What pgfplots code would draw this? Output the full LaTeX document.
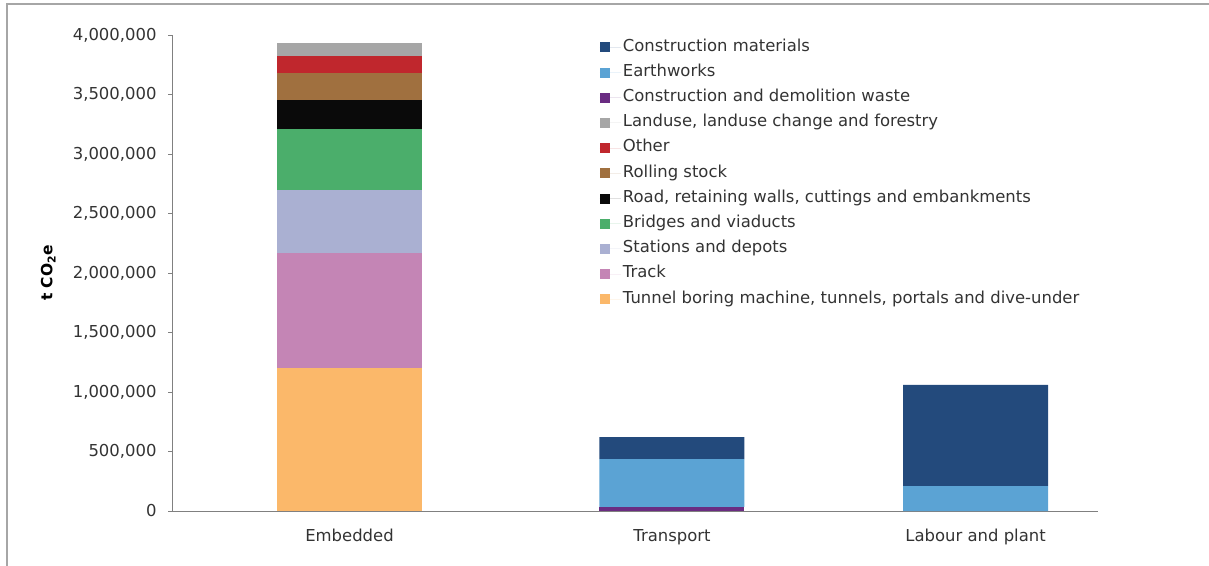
\documentclass[border=0pt]{standalone}
\usepackage{pgfplots}
\pgfplotsset{compat=1.18}
\usepackage{fontspec}
\setmainfont{DejaVu Sans}
\definecolor{cmat}{HTML}{234A7C}
\definecolor{earth}{HTML}{5BA3D4}
\definecolor{waste}{HTML}{6A2C82}
\definecolor{landuse}{HTML}{A6A6A6}
\definecolor{other}{HTML}{C0272D}
\definecolor{rolling}{HTML}{A0703F}
\definecolor{road}{HTML}{0A0A0A}
\definecolor{bridges}{HTML}{4BAE6B}
\definecolor{stations}{HTML}{AAB0D2}
\definecolor{track}{HTML}{C485B5}
\definecolor{tunnel}{HTML}{FBB86A}
\definecolor{axgray}{HTML}{808080}
\begin{document}
\begin{tikzpicture}
\useasboundingbox (0,0) rectangle (1209bp,566bp);
\draw[gray!70, line width=1.2bp] (7bp,0) -- (7bp,562bp) -- (1209bp,562bp);
\begin{axis}[
  at={(172bp,55bp)}, anchor=south west,
  scale only axis, width=926bp, height=476bp,
  ybar stacked, bar width=145bp,
  xmin=-0.567, xmax=2.391, ymin=0, ymax=4000000,
  axis x line*=bottom, axis y line*=left,
  axis line style={axgray, line width=0.8bp},
  every axis plot/.append style={draw=none},
  xtick={0,1.03,2}, xticklabels={Embedded,Transport,Labour and plant},
  major x tick style={draw=none},
  extra x ticks={0.419,1.405,2.391}, extra x tick labels={},
  extra x tick style={major tick length=5bp, tick align=outside, tick style={axgray, line width=0.8bp}},
  xticklabel style={font=\fontsize{16.5}{18}\selectfont, color=black!80, yshift=-11bp, text height=12bp, text depth=3.5bp},
  ytick distance=500000,
  scaled y ticks=false,
  /pgf/number format/fixed,
  /pgf/number format/1000 sep={,},
  /pgf/number format/assume math mode=true,
  yticklabel style={font=\fontsize{16.5}{18}\selectfont, color=black!80, xshift=-8bp},
  tick align=outside, major tick length=4bp,
  ytick style={axgray, line width=0.8bp},
  ylabel={\bfseries t CO\textsubscript{2}e},
  ylabel style={font=\fontsize{15.5}{18}\selectfont, at={(axis description cs:-0.122,0.5)}},
  reverse legend,
  legend cell align=left,
  legend style={at={(axis description cs:0.4587,0.998)}, anchor=north west, draw=none, fill=none,
    font=\fontsize{16.5}{18}\selectfont, row sep=6.7bp, text=black!80,
    nodes={inner sep=2bp, text height=11bp, text depth=3.5bp}},
  legend image code/.code={\fill[#1] (0bp,-5bp) rectangle (10bp,5bp); \path (0bp,0bp) -- (21bp,0bp);},
]
\addplot[fill=tunnel] coordinates {(0,1200000) (1.03,0) (2,0)};
\addplot[fill=track] coordinates {(0,970000) (1.03,0) (2,0)};
\addplot[fill=stations] coordinates {(0,530000) (1.03,0) (2,0)};
\addplot[fill=bridges] coordinates {(0,510000) (1.03,0) (2,0)};
\addplot[fill=road] coordinates {(0,244000) (1.03,0) (2,0)};
\addplot[fill=rolling] coordinates {(0,230000) (1.03,0) (2,0)};
\addplot[fill=other] coordinates {(0,140000) (1.03,0) (2,0)};
\addplot[fill=landuse] coordinates {(0,106000) (1.03,0) (2,0)};
\addplot[fill=waste] coordinates {(0,0) (1.03,35000) (2,0)};
\addplot[fill=earth] coordinates {(0,0) (1.03,400000) (2,210000)};
\addplot[fill=cmat] coordinates {(0,0) (1.03,185000) (2,850000)};
\legend{Tunnel boring machine{,} tunnels{,} portals and dive-under, Track, Stations and depots, Bridges and viaducts, {Road, retaining walls, cuttings and embankments}, Rolling stock, Other, {Landuse, landuse change and forestry}, Construction and demolition waste, Earthworks, Construction materials}
\end{axis}
\end{tikzpicture}
\end{document}
